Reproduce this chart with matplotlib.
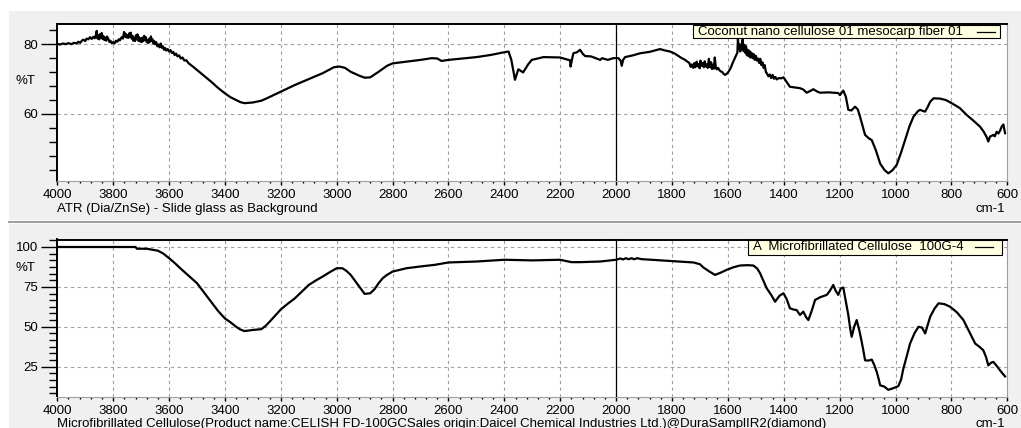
import matplotlib
matplotlib.use("Agg")
import matplotlib.pyplot as plt
from matplotlib.patches import Rectangle
from matplotlib.lines import Line2D
from matplotlib.ticker import MultipleLocator

plt.rcParams['font.family'] = ['Liberation Sans', 'DejaVu Sans']
FS = 9.5

# coconut nano cellulose spectrum (wavenumber, %T)
coco_wn = [4000, 3990, 3980, 3970, 3960, 3950, 3940, 3930, 3925, 3918, 3912, 3907, 3900,
           3895, 3889, 3883, 3877, 3871, 3866, 3862, 3859, 3856, 3853, 3850, 3847, 3844,
           3841, 3838, 3835, 3832, 3829, 3825, 3822, 3817, 3813, 3810, 3805, 3800, 3795,
           3790, 3785, 3780, 3776, 3770, 3765, 3761, 3758, 3755, 3752, 3749, 3746, 3743,
           3740, 3737, 3734, 3731, 3728, 3725, 3722, 3719, 3716, 3713, 3710, 3707, 3704,
           3701, 3698, 3695, 3692, 3689, 3686, 3683, 3680, 3677, 3674, 3671, 3668, 3665,
           3662, 3659, 3656, 3653, 3650, 3646, 3642, 3638, 3634, 3630, 3626, 3622, 3618,
           3614, 3610, 3605, 3600, 3595, 3590, 3585, 3580, 3575, 3570, 3564, 3558, 3552,
           3545, 3538, 3531, 3515, 3500, 3475, 3450, 3425, 3400, 3380, 3360, 3345, 3330,
           3300, 3270, 3250, 3200, 3150, 3100, 3050, 3010, 2990, 2970, 2950, 2920, 2900,
           2880, 2850, 2820, 2800, 2750, 2700, 2660, 2640, 2625, 2600, 2550, 2500, 2450,
           2400, 2385, 2375, 2362, 2350, 2340, 2333, 2315, 2302, 2260, 2201, 2171, 2165,
           2163, 2158, 2153, 2140, 2129, 2120, 2111, 2090, 2057, 2050, 2030, 2010, 1992,
           1984, 1980, 1975, 1968, 1940, 1914, 1880, 1843, 1825, 1807, 1790, 1765, 1755,
           1745, 1738, 1733, 1729, 1724, 1720, 1716, 1712, 1708, 1705, 1701, 1698, 1694,
           1690, 1686, 1683, 1679, 1676, 1672, 1668, 1664, 1660, 1657, 1654, 1650, 1647,
           1643, 1640, 1635, 1630, 1625, 1620, 1615, 1610, 1603, 1597, 1590, 1583, 1576,
           1570, 1566, 1564, 1562, 1559, 1556, 1553, 1550, 1547, 1544, 1541, 1538, 1535,
           1532, 1529, 1526, 1523, 1520, 1516, 1512, 1508, 1504, 1500, 1496, 1492, 1488,
           1484, 1480, 1476, 1472, 1468, 1464, 1460, 1455, 1450, 1445, 1440, 1435, 1430,
           1425, 1418, 1410, 1401, 1390, 1378, 1360, 1342, 1330, 1318, 1305, 1294, 1280,
           1270, 1240, 1223, 1205, 1199, 1192, 1187, 1178, 1169, 1158, 1145, 1135, 1127,
           1109, 1095, 1085, 1070, 1055, 1040, 1026, 1012, 996, 980, 966, 950, 936, 920,
           912, 900, 894, 885, 876, 864, 840, 820, 799, 770, 745, 720, 698, 685, 674, 668,
           662, 650, 645, 638, 632, 626, 620, 614, 608]
coco_t = [80.1, 79.9, 80.2, 80.0, 80.3, 80.0, 80.4, 80.2, 80.7, 80.4, 81.0, 81.3, 80.9,
          81.6, 81.4, 82.0, 81.5, 82.1, 81.7, 82.6, 83.8, 81.6, 82.5, 81.4, 82.9, 81.8,
          83.2, 81.5, 82.3, 81.2, 81.9, 81.0, 82.2, 81.4, 80.6, 81.0, 80.3, 80.6, 80.2,
          81.0, 80.7, 81.4, 81.1, 82.0, 81.6, 83.5, 82.2, 83.0, 81.9, 82.6, 81.8, 83.1,
          82.2, 83.3, 81.6, 82.4, 81.0, 81.7, 80.9, 82.5, 81.4, 82.8, 81.0, 82.0, 80.8,
          81.6, 80.6, 81.9, 80.9, 82.4, 81.3, 82.0, 80.6, 81.2, 80.3, 81.6, 80.7, 82.2,
          80.9, 81.4, 80.2, 80.9, 80.0, 80.6, 79.4, 79.9, 79.1, 80.2, 79.0, 79.4, 78.4,
          78.9, 78.2, 78.6, 77.9, 78.3, 77.5, 77.8, 76.9, 77.3, 76.5, 76.8, 75.9, 76.2,
          75.3, 75.4, 74.6, 73.6, 72.6, 70.9, 69.3, 67.5, 65.9, 64.8, 64.0, 63.4, 63.1,
          63.3, 63.8, 64.5, 66.4, 68.3, 70.0, 71.7, 73.4, 73.6, 73.2, 72.1, 71.0, 70.4,
          70.5, 72.1, 73.8, 74.5, 75.0, 75.5, 76.0, 75.9, 75.2, 75.5, 75.9, 76.3, 76.9,
          77.7, 77.9, 75.5, 69.8, 72.8, 72.3, 71.9, 74.2, 75.5, 76.3, 76.2, 75.5, 75.4,
          73.6, 75.6, 77.4, 77.7, 78.4, 77.3, 76.6, 76.5, 75.5, 76.0, 75.5, 76.0, 76.0,
          75.3, 73.8, 75.5, 76.3, 76.8, 77.4, 77.8, 78.6, 78.2, 77.9, 77.3, 76.0, 75.6,
          75.0, 74.6, 73.5, 74.2, 73.2, 74.6, 73.4, 75.0, 73.7, 74.3, 73.1, 75.3, 73.8,
          74.6, 73.4, 75.1, 73.6, 74.2, 73.2, 75.8, 73.4, 74.8, 72.9, 74.1, 73.0, 76.2,
          73.3, 72.8, 73.2, 72.5, 72.2, 72.0, 71.5, 71.2, 71.6, 72.2, 73.2, 74.6, 75.8,
          76.9, 77.6, 81.9, 78.8, 80.0, 77.9, 78.6, 80.2, 81.4, 78.0, 79.8, 77.5, 79.4,
          76.8, 78.4, 76.6, 78.1, 76.2, 77.6, 76.0, 77.2, 75.5, 76.7, 75.3, 75.9, 74.6,
          75.8, 74.0, 74.8, 73.2, 74.0, 72.0, 71.6, 70.8, 71.3, 70.3, 71.2, 70.1, 70.6,
          69.9, 70.3, 70.2, 70.5, 69.2, 67.8, 67.6, 67.4, 67.0, 66.1, 66.6, 67.1, 66.4,
          66.1, 66.2, 66.1, 66.0, 65.4, 66.2, 66.7, 65.0, 61.2, 61.0, 62.1, 61.3, 59.2,
          54.0, 53.0, 52.5, 49.5, 45.8, 44.0, 43.0, 43.8, 45.4, 49.0, 52.5, 56.5, 59.2, 60.8,
          61.2, 60.8, 60.7, 62.0, 63.5, 64.5, 64.4, 64.0, 63.1, 61.7, 59.7, 58.0, 56.4, 55.0,
          53.4, 52.1, 53.5, 54.0, 53.6, 54.9, 54.4, 55.2, 56.4, 57.0, 54.5]

# microfibrillated cellulose spectrum (wavenumber, %T)
mfc_wn = [4000, 3900, 3800, 3720, 3715, 3680, 3660, 3640, 3620, 3600, 3580, 3560, 3530,
          3500, 3475, 3450, 3425, 3400, 3380, 3360, 3345, 3330, 3300, 3270, 3255, 3240,
          3220, 3200, 3175, 3150, 3125, 3100, 3075, 3050, 3025, 3000, 2980, 2965, 2950,
          2925, 2900, 2880, 2865, 2850, 2835, 2820, 2800, 2750, 2700, 2650, 2600, 2500,
          2400, 2300, 2201, 2160, 2129, 2057, 2000, 1985, 1975, 1965, 1955, 1945, 1935,
          1925, 1910, 1819, 1723, 1700, 1688, 1665, 1646, 1625, 1604, 1580, 1557, 1530,
          1509, 1495, 1485, 1472, 1461, 1445, 1431, 1415, 1401, 1390, 1378, 1365, 1354,
          1342, 1330, 1320, 1312, 1300, 1288, 1270, 1246, 1235, 1223, 1214, 1205, 1196,
          1187, 1178, 1169, 1162, 1157, 1148, 1139, 1130, 1121, 1115, 1109, 1097, 1085,
          1076, 1067, 1060, 1055, 1040, 1026, 1008, 990, 980, 972, 960, 948, 932, 918,
          905, 894, 885, 876, 860, 846, 825, 805, 780, 757, 735, 715, 700, 686, 676, 668,
          658, 650, 638, 626, 616, 608]
mfc_t = [100.0, 100.0, 100.0, 100.0, 98.9, 98.9, 98.3, 97.7, 95.8, 93.0, 90.0, 86.7, 82.0,
         77.3, 71.5, 65.7, 60.0, 55.2, 52.8, 50.0, 48.3, 47.3, 48.0, 48.5, 50.5, 53.2,
         57.0, 60.9, 64.5, 67.8, 72.0, 76.2, 79.0, 81.5, 84.2, 86.7, 86.7, 85.0, 82.5,
         76.5, 70.6, 71.0, 73.5, 77.3, 80.5, 82.5, 84.6, 86.7, 87.8, 88.8, 90.3, 90.9,
         92.0, 91.6, 92.0, 90.5, 90.5, 90.9, 92.0, 92.8, 92.2, 93.0, 92.3, 93.0, 92.3,
         93.0, 92.4, 91.4, 90.3, 89.2, 87.2, 84.5, 82.5, 84.0, 85.7, 87.3, 88.4, 88.6,
         88.4, 86.5, 83.6, 78.5, 74.1, 70.0, 65.7, 69.5, 71.0, 67.5, 61.6, 60.8, 60.5,
         57.4, 59.5, 56.0, 54.2, 60.0, 66.8, 68.5, 70.0, 72.5, 76.2, 72.5, 70.0, 74.0,
         74.6, 66.0, 57.4, 48.5, 43.7, 50.0, 54.2, 48.0, 40.5, 35.0, 29.0, 28.8, 29.4,
         26.0, 21.6, 17.0, 13.3, 12.5, 10.5, 11.5, 12.8, 17.0, 23.8, 31.5, 39.5, 46.0, 50.0,
         49.5, 45.8, 51.0, 56.3, 61.5, 64.7, 64.2, 62.6, 59.0, 54.2, 46.5, 39.5, 37.5,
         35.3, 31.0, 25.8, 27.5, 28.0, 25.5, 22.7, 20.5, 18.9]

assert len(coco_wn) == len(coco_t), (len(coco_wn), len(coco_t))
assert len(mfc_wn) == len(mfc_t), (len(mfc_wn), len(mfc_t))

W, H = 1021, 428
fig = plt.figure(figsize=(W / 100, H / 100), dpi=100)
fig.patch.set_facecolor('white')


def fx(px):
    return px / W


def fy(py):
    return 1 - py / H


# window background
fig.add_artist(Rectangle((fx(9), fy(220)), fx(W - 9), 209 / H, transform=fig.transFigure,
                         facecolor='#f0f0f0', edgecolor='none', zorder=-10))
fig.add_artist(Rectangle((fx(9), 0), fx(W - 9), fy(224), transform=fig.transFigure,
                         facecolor='#f0f0f0', edgecolor='none', zorder=-10))
fig.add_artist(Line2D([fx(9), 1], [fy(222.5), fy(222.5)], transform=fig.transFigure,
                      color='#a0a0a0', lw=1.5, zorder=-9))


def setup_axis(ax, ylim, ymajor, yminor, ylabels):
    ax.set_facecolor('white')
    ax.set_xlim(4000, 600)
    ax.set_ylim(*ylim)
    ax.xaxis.set_major_locator(MultipleLocator(200))
    ax.xaxis.set_minor_locator(MultipleLocator(40))
    ax.set_yticks(ymajor)
    ax.set_yticklabels(ylabels)
    ax.yaxis.set_minor_locator(MultipleLocator(yminor))
    ax.tick_params(axis='y', which='major', length=11.5, width=1, labelsize=FS, pad=2)
    ax.tick_params(axis='y', which='minor', length=5.8, width=1)
    ax.tick_params(axis='x', which='major', length=3, width=1, labelsize=FS, pad=3)
    ax.tick_params(axis='x', which='minor', length=1.5, width=1)
    ax.grid(True, which='major', color='#a0a0a0', lw=0.8, ls=(0, (3, 3)))
    for s in ['left', 'top']:
        ax.spines[s].set_color('black')
        ax.spines[s].set_linewidth(1.4)
    for s in ['right', 'bottom']:
        ax.spines[s].set_color('#a0a0a0')
        ax.spines[s].set_linewidth(0.8)
    ax.axvline(2000, color='black', lw=0.9, zorder=3)


def label_box(ax, x0, x1, y0, y1, text, lx0, lx1):
    ax.add_patch(Rectangle((x0, y0), x1 - x0, y1 - y0, transform=ax.transAxes,
                           facecolor='#ffffe1', edgecolor='black', lw=0.8,
                           clip_on=False, zorder=6))
    ym = (y0 + y1) / 2
    ax.text(x0 + 0.005, ym, text, transform=ax.transAxes, ha='left', va='center',
            fontsize=FS, zorder=7)
    ax.add_line(Line2D([lx0, lx1], [ym, ym], transform=ax.transAxes, color='black',
                       lw=0.9, zorder=7))


# top panel
ax1 = fig.add_axes([fx(57.3), fy(181), 950 / W, 156.7 / H])
setup_axis(ax1, (40.8, 85.7), [60, 80], 4, ['60', '80'])
ax1.plot(coco_wn, coco_t, color='black', lw=1.6, zorder=4)
label_box(ax1, 0.6695, 0.9923, 0.9107, 0.9955,
          'Coconut nano cellulose 01 mesocarp fiber 01', 0.9678, 0.9871)
fig.text(fx(25), fy(81), '%T', ha='center', va='center', fontsize=FS)
fig.text(fx(57), fy(209), 'ATR (Dia/ZnSe) - Slide glass as Background',
         ha='left', va='center', fontsize=FS)
fig.text(fx(1005), fy(209), 'cm-1', ha='right', va='center', fontsize=FS)

# bottom panel
ax2 = fig.add_axes([fx(57.3), fy(396.5), 950 / W, 157 / H])
setup_axis(ax2, (6.3, 104.7), [25, 50, 75, 100], 25 / 6, ['25', '50', '75', '100'])
ax2.plot(mfc_wn, mfc_t, color='black', lw=1.6, zorder=4)
label_box(ax2, 0.7274, 0.9941, 0.9013, 0.9968,
          'A  Microfibrillated Cellulose  100G-4', 0.966, 0.985)
fig.text(fx(25), fy(268), '%T', ha='center', va='center', fontsize=FS)
fig.text(fx(57), fy(424),
         'Microfibrillated Cellulose(Product name:CELISH FD-100GCSales origin:'
         'Daicel Chemical Industries Ltd.)@DuraSamplIR2(diamond)',
         ha='left', va='center', fontsize=FS)
fig.text(fx(1005), fy(424), 'cm-1', ha='right', va='center', fontsize=FS)

plt.savefig('out.png', dpi=100)
plt.close(fig)
